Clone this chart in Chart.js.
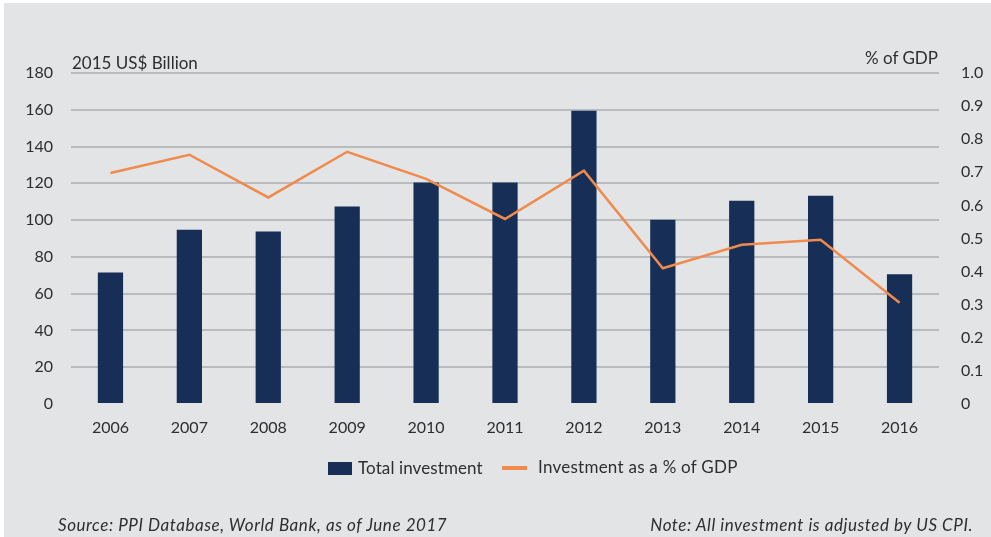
<!DOCTYPE html>
<html>
<head>
<meta charset="utf-8">
<script src="https://cdn.jsdelivr.net/npm/chart.js@4/dist/chart.umd.min.js"></script>
<style>
    html, body { margin: 0; padding: 0; background: #ffffff; }
    #wrap { position: relative; width: 991px; height: 537px; overflow: hidden; font-family: Lato, "Open Sans", sans-serif; color: #2e2e2e; }
    #chart { position: absolute; left: 0; top: 0; }
    .txt { position: absolute; white-space: nowrap; line-height: 1; }
    .note { font-size: 17px; font-style: italic; letter-spacing: 0.55px; }
    .legend-box { position: absolute; width: 24px; height: 13px; background: #172f57; }
    .legend-line { position: absolute; width: 25px; height: 4px; background: #f18a4d; }
</style>
</head>
<body>
<div id="wrap">
    <canvas id="chart" width="991" height="537"></canvas>
    <div class="txt" style="left:72px; top:54px; font-size:17px;">2015 US$ Billion</div>
    <div class="txt" style="right:53px; top:49px; font-size:17px;">% of GDP</div>
    <div class="legend-box" style="left:328px; top:462px;"></div>
    <div class="txt" style="left:358px; top:459px; font-size:17px; letter-spacing:0.1px;">Total investment</div>
    <div class="legend-line" style="left:502px; top:466px;"></div>
    <div class="txt" style="left:538px; top:458px; font-size:17px; letter-spacing:0.25px;">Investment as a % of GDP</div>
    <div class="txt note" style="left:58px; top:516px;">Source: PPI Database, World Bank, as of June 2017</div>
    <div class="txt note" style="right:18px; top:516px;">Note: All investment is adjusted by US CPI.</div>
</div>
<script>
"use strict";

/**----------------------------------------------------------------------
 * [Chart data]
 *--------------------------------------------------------------*/
const years = ['2006', '2007', '2008', '2009', '2010', '2011', '2012', '2013', '2014', '2015', '2016'];
const totalInvestment = [71.5, 94.7, 93.8, 107.4, 120.5, 120.5, 159.5, 100.2, 110.5, 113.2, 70.6];
const investmentPctGdp = [0.698, 0.753, 0.624, 0.762, 0.680, 0.559, 0.705, 0.410, 0.481, 0.496, 0.306];
const leftTicks = [0, 20, 40, 60, 80, 100, 120, 140, 160, 180];
const rightTicks = ['0', '0.1', '0.2', '0.3', '0.4', '0.5', '0.6', '0.7', '0.8', '0.9', '1.0'];

/**----------------------------------------------------------------------
 * [Colors]
 *--------------------------------------------------------------*/
const navy = '#172f57';
const orange = '#f18a4d';
const gridColor = '#b9bcbe';
const textColor = '#2e2e2e';

/**----------------------------------------------------------------------
 * [Background plugin: white page edge with grey panel]
 *--------------------------------------------------------------*/
const panelBackground = {
    id: 'panelBackground',
    beforeDraw: function(chart) {
        const ctx = chart.ctx;
        ctx.save();
        ctx.fillStyle = '#ffffff';
        ctx.fillRect(0, 0, chart.width, chart.height);
        ctx.fillStyle = '#e2e4e5';
        ctx.fillRect(4, 3, chart.width - 4, chart.height - 3);
        ctx.restore();
    }
};

const tickFont = { family: 'Lato', size: 16 };

new Chart(document.getElementById('chart').getContext('2d'), {
    type: 'bar',
    data: {
        labels: years,
        datasets: [
            {
                type: 'line',
                label: 'Investment as a % of GDP',
                data: investmentPctGdp,
                yAxisID: 'y1',
                borderColor: orange,
                borderWidth: 2.5,
                pointRadius: 0,
                tension: 0,
                order: 1
            },
            {
                type: 'bar',
                label: 'Total investment',
                data: totalInvestment,
                yAxisID: 'y',
                backgroundColor: navy,
                categoryPercentage: 1,
                barPercentage: 0.32,
                order: 2
            }
        ]
    },
    options: {
        responsive: false,
        animation: false,
        layout: {
            padding: { top: 73, bottom: 93, left: 0, right: 0 }
        },
        plugins: {
            legend: { display: false },
            tooltip: { enabled: false }
        },
        scales: {
            x: {
                grid: { display: false, drawTicks: false },
                border: { display: false },
                ticks: { color: textColor, font: tickFont, padding: 14, maxRotation: 0 },
                afterFit: function(scale) { scale.height = 40; }
            },
            y: {
                position: 'left',
                min: 0,
                max: 180,
                afterBuildTicks: function(scale) {
                    scale.ticks = leftTicks.map(function(v) { return { value: v }; });
                },
                grid: {
                    drawTicks: false,
                    lineWidth: 2,
                    color: function(ctx) { return ctx.tick && ctx.tick.value === 0 ? 'rgba(0,0,0,0)' : gridColor; }
                },
                border: { display: false },
                ticks: { color: textColor, font: tickFont, padding: 18 },
                afterFit: function(scale) { scale.width = 71; }
            },
            y1: {
                position: 'right',
                min: 0,
                max: 1,
                afterBuildTicks: function(scale) {
                    scale.ticks = rightTicks.map(function(v) { return { value: parseFloat(v) }; });
                },
                grid: { display: false, drawTicks: false },
                border: { display: false },
                ticks: {
                    color: textColor,
                    font: tickFont,
                    padding: 22,
                    callback: function(value, index) { return rightTicks[index]; }
                },
                afterFit: function(scale) { scale.width = 52; }
            }
        }
    },
    plugins: [panelBackground]
});
</script>
</body>
</html>
